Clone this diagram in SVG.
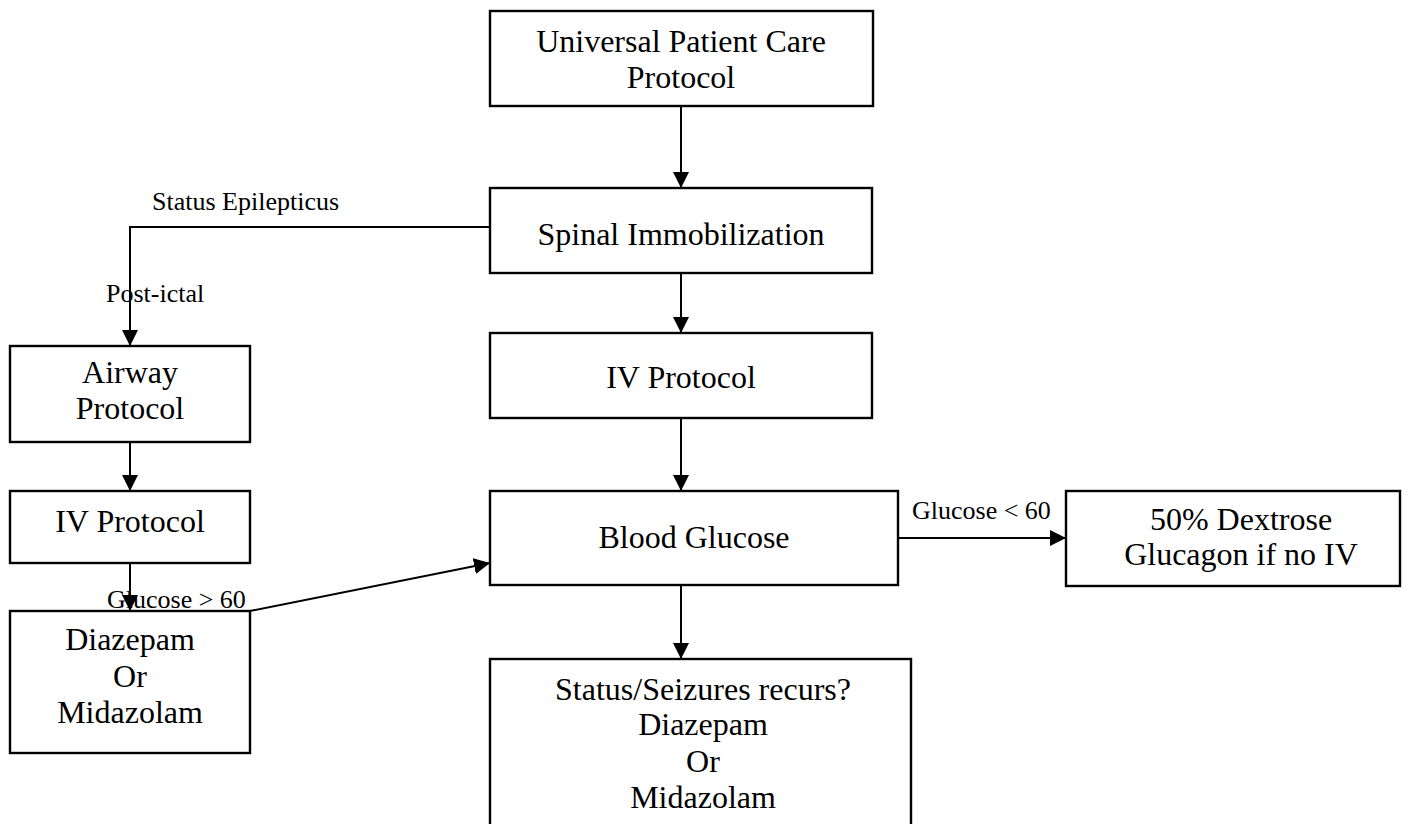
<svg xmlns="http://www.w3.org/2000/svg" width="1408" height="824" viewBox="0 0 1408 824">
  <style>
    .box { fill: #ffffff; stroke: #000000; stroke-width: 2.4; }
    .node { font-family: "Liberation Serif", "Times New Roman", serif; font-size: 32px; fill: #000000; text-anchor: middle; }
    .lbl { font-family: "Liberation Serif", "Times New Roman", serif; font-size: 26px; fill: #000000; }
    .edge { fill: none; stroke: #000000; stroke-width: 2; marker-end: url(#arrow); }
  </style>
  <defs>
    <marker id="arrow" markerUnits="userSpaceOnUse" markerWidth="16" markerHeight="16" viewBox="0 0 15 15" refX="15" refY="7.5" orient="auto">
      <path d="M0,0 L15,7.5 L0,15 Z" fill="#000000"/>
    </marker>
  </defs>
  <rect width="1408" height="824" fill="#ffffff"/>

  <!-- connectors -->
  <g id="connectors">
    <line class="edge" x1="681" y1="106" x2="681" y2="188"/>
    <line class="edge" x1="681" y1="273" x2="681" y2="333"/>
    <line class="edge" x1="681" y1="418" x2="681" y2="491"/>
    <line class="edge" x1="681" y1="585" x2="681" y2="659"/>
    <line class="edge" x1="898" y1="538" x2="1066" y2="538"/>
    <polyline class="edge" points="490,227 130,227 130,346"/>
    <line class="edge" x1="130" y1="442" x2="130" y2="491"/>
    <line class="edge" x1="130" y1="563" x2="130" y2="611"/>
    <line class="edge" x1="250" y1="611" x2="490" y2="563"/>
  </g>

  <!-- centre column -->
  <g id="universal">
    <rect class="box" x="490" y="11" width="383" height="95"/>
    <text class="node" x="681" y="52">Universal Patient Care</text>
    <text class="node" x="681" y="88">Protocol</text>
  </g>
  <g id="spinal">
    <rect class="box" x="490" y="188" width="382" height="85"/>
    <text class="node" x="681" y="245">Spinal Immobilization</text>
  </g>
  <g id="iv-main">
    <rect class="box" x="490" y="333" width="382" height="85"/>
    <text class="node" x="681" y="388">IV Protocol</text>
  </g>
  <g id="blood-glucose">
    <rect class="box" x="490" y="491" width="408" height="94"/>
    <text class="node" x="694" y="548">Blood Glucose</text>
  </g>
  <g id="dextrose">
    <rect class="box" x="1066" y="491" width="334" height="95"/>
    <text class="node" x="1241" y="530">50% Dextrose</text>
    <text class="node" x="1241" y="565">Glucagon if no IV</text>
  </g>
  <g id="recurs">
    <rect class="box" x="490" y="659" width="421" height="180"/>
    <text class="node" x="703" y="700">Status/Seizures recurs?</text>
    <text class="node" x="703" y="735">Diazepam</text>
    <text class="node" x="703" y="772">Or</text>
    <text class="node" x="703" y="808">Midazolam</text>
  </g>

  <!-- left column -->
  <g id="airway">
    <rect class="box" x="10" y="346" width="240" height="96"/>
    <text class="node" x="130" y="383">Airway</text>
    <text class="node" x="130" y="419">Protocol</text>
  </g>
  <g id="iv-left">
    <rect class="box" x="10" y="491" width="240" height="72"/>
    <text class="node" x="130" y="532">IV Protocol</text>
  </g>
  <g id="benzo">
    <rect class="box" x="10" y="611" width="240" height="142"/>
    <text class="node" x="130" y="650">Diazepam</text>
    <text class="node" x="130" y="687">Or</text>
    <text class="node" x="130" y="723">Midazolam</text>
  </g>

  <!-- connector labels -->
  <g id="labels">
    <text class="lbl" x="152" y="210">Status Epilepticus</text>
    <text class="lbl" x="106" y="302">Post-ictal</text>
    <text class="lbl" x="107" y="608">Glucose &gt; 60</text>
    <text class="lbl" x="912" y="519">Glucose &lt; 60</text>
  </g>
</svg>
